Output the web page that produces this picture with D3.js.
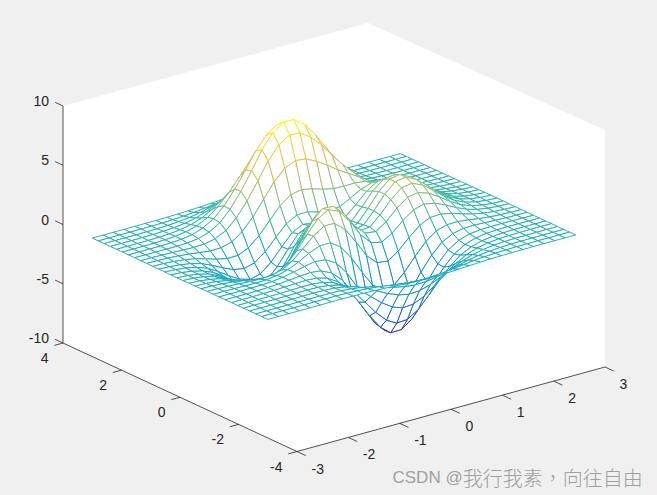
<!DOCTYPE html>
<html>
<head>
<meta charset="utf-8">
<style>
  html, body { margin: 0; padding: 0; background: #f0f0f0; overflow: hidden; }
  text { font-family: "Liberation Sans", Arial, sans-serif; }
</style>
<script src="https://cdnjs.cloudflare.com/ajax/libs/d3/7.8.5/d3.min.js"></script>
</head>
<body>
<div id="chart"></div>
<script>
const xTicks = [-3, -2, -1, 0, 1, 2, 3];
const yTicks = [-4, -2, 0, 2, 4];
const zTicks = [-10, -5, 0, 5, 10];

// mesh node positions, same for both directions
const gridVals = [-3, -2.79, -2.59, -2.38, -2.17, -1.97, -1.76, -1.55, -1.34, -1.14, -0.93, -0.72, -0.52, -0.31, -0.1,
  0.1, 0.31, 0.52, 0.72, 0.93, 1.14, 1.34, 1.55, 1.76, 1.97, 2.17, 2.38, 2.59, 2.79, 3];

// heights, one row per y node
const zRows = [
  [0,0,0,0,0,0,.01,.01,0,-.01,-.04,-.08,-.13,-.19,-.23,-.25,-.25,-.22,-.18,-.13,-.08,-.05,-.03,-.01,-.01,0,0,0,0,0],
  [0,0,0,0,0,.01,.01,.01,-.01,-.04,-.11,-.20,-.32,-.45,-.55,-.60,-.58,-.51,-.41,-.29,-.19,-.11,-.06,-.03,-.01,0,0,0,0,0],
  [0,0,0,0,.01,.01,.01,.01,-.02,-.10,-.23,-.43,-.68,-.94,-1.14,-1.24,-1.21,-1.07,-.85,-.61,-.39,-.23,-.12,-.06,-.02,-.01,0,0,0,0],
  [0,0,0,.01,.01,.02,.03,.01,-.04,-.18,-.42,-.79,-1.24,-1.71,-2.08,-2.27,-2.21,-1.95,-1.54,-1.10,-.71,-.41,-.22,-.10,-.04,-.02,-.01,0,0,0],
  [0,0,.01,.01,.02,.04,.05,.03,-.06,-.26,-.64,-1.23,-1.96,-2.72,-3.34,-3.65,-3.58,-3.16,-2.50,-1.78,-1.14,-.66,-.34,-.16,-.06,-.02,-.01,0,0,0],
  [0,0,.01,.02,.03,.05,.08,.07,-.03,-.29,-.81,-1.61,-2.66,-3.77,-4.68,-5.17,-5.10,-4.51,-3.57,-2.54,-1.61,-.91,-.46,-.20,-.08,-.02,0,0,0,0],
  [0,0,.01,.02,.04,.08,.12,.15,.09,-.15,-.70,-1.63,-2.90,-4.30,-5.52,-6.22,-6.21,-5.53,-4.38,-3.09,-1.93,-1.06,-.50,-.20,-.06,-.01,.01,.01,0,0],
  [0,0,0,.01,.04,.09,.17,.27,.32,.22,-.20,-1.05,-2.34,-3.89,-5.33,-6.26,-6.41,-5.77,-4.56,-3.16,-1.90,-.96,-.39,-.10,.01,.03,.03,.02,.01,0],
  [0,0,-.01,0,.02,.07,.18,.37,.59,.76,.67,.15,-.90,-2.38,-3.91,-5.05,-5.44,-5.00,-3.92,-2.59,-1.40,-.55,-.07,.12,.15,.11,.07,.03,.02,.01],
  [-.01,-.01,-.02,-.04,-.05,-.02,.09,.34,.74,1.23,1.61,1.62,1.04,-.15,-1.62,-2.91,-3.57,-3.42,-2.59,-1.48,-.48,.17,.45,.47,.36,.23,.13,.06,.03,.01],
  [-.01,-.03,-.06,-.10,-.16,-.20,-.15,.08,.59,1.36,2.21,2.80,2.79,2.01,.70,-.65,-1.52,-1.62,-1.03,-.14,.64,1.07,1.11,.92,.63,.38,.20,.09,.04,.01],
  [-.02,-.04,-.10,-.19,-.33,-.48,-.57,-.45,.04,.95,2.12,3.19,3.69,3.31,2.21,.88,-.07,-.27,.24,1.05,1.71,1.96,1.79,1.39,.92,.54,.28,.13,.06,.02],
  [-.02,-.06,-.14,-.29,-.52,-.82,-1.11,-1.19,-.85,.04,1.35,2.71,3.57,3.51,2.62,1.39,.51,.39,.99,1.88,2.55,2.71,2.40,1.82,1.20,.70,.36,.17,.07,.03],
  [-.03,-.08,-.19,-.38,-.70,-1.15,-1.63,-1.94,-1.81,-1.07,.24,1.72,2.78,2.95,2.26,1.19,.46,.53,1.31,2.35,3.10,3.25,2.85,2.14,1.41,.82,.42,.20,.08,.03],
  [-.04,-.09,-.21,-.44,-.83,-1.37,-2.01,-2.51,-2.59,-2.02,-.81,.68,1.84,2.17,1.66,.78,.23,.47,1.42,2.57,3.38,3.53,3.08,2.32,1.52,.88,.46,.21,.09,.03],
  [-.04,-.09,-.22,-.46,-.87,-1.46,-2.17,-2.77,-3.00,-2.59,-1.52,-.12,1.04,1.47,1.11,.42,.04,.39,1.40,2.57,3.38,3.52,3.07,2.31,1.51,.87,.45,.21,.09,.03],
  [-.03,-.09,-.21,-.44,-.82,-1.39,-2.08,-2.71,-3.00,-2.71,-1.81,-.58,.49,.94,.72,.19,-.06,.33,1.28,2.37,3.11,3.23,2.81,2.11,1.38,.80,.41,.19,.08,.03],
  [-.03,-.08,-.18,-.37,-.70,-1.20,-1.80,-2.35,-2.63,-2.41,-1.66,-.61,.34,.79,.67,.29,.11,.45,1.23,2.11,2.69,2.76,2.39,1.79,1.17,.68,.35,.16,.07,.02],
  [-.02,-.06,-.14,-.29,-.54,-.92,-1.37,-1.78,-1.94,-1.70,-1.00,-.04,.86,1.36,1.38,1.12,.93,1.07,1.52,2.04,2.34,2.29,1.93,1.43,.92,.53,.27,.13,.05,.02],
  [-.02,-.04,-.10,-.20,-.37,-.61,-.89,-1.09,-1.07,-.68,.11,1.15,2.16,2.82,3.01,2.84,2.55,2.36,2.32,2.33,2.24,1.97,1.56,1.11,.70,.39,.20,.09,.04,.01],
  [-.01,-.03,-.06,-.12,-.21,-.33,-.44,-.42,-.17,.45,1.44,2.69,3.92,4.82,5.22,5.12,4.67,4.08,3.47,2.91,2.37,1.83,1.32,.87,.53,.29,.14,.06,.03,.01],
  [-.01,-.01,-.03,-.06,-.09,-.12,-.08,.11,.56,1.38,2.56,4.01,5.45,6.57,7.14,7.08,6.49,5.56,4.49,3.45,2.53,1.76,1.15,.71,.40,.21,.10,.04,.02,.01],
  [0,-.01,-.01,-.02,-.01,.02,.14,.43,.98,1.88,3.14,4.64,6.15,7.35,8.00,7.97,7.31,6.21,4.91,3.63,2.52,1.64,1.00,.57,.31,.15,.07,.03,.01,0],
  [0,0,0,0,.03,.09,.23,.54,1.08,1.92,3.08,4.44,5.82,6.93,7.55,7.53,6.91,5.86,4.58,3.32,2.25,1.41,.83,.45,.23,.11,.05,.02,.01,0],
  [0,0,0,.01,.04,.10,.23,.48,.93,1.61,2.53,3.62,4.72,5.60,6.10,6.10,5.60,4.73,3.68,2.65,1.76,1.08,.62,.33,.16,.07,.03,.01,0,0],
  [0,0,0,.01,.03,.08,.17,.36,.67,1.15,1.78,2.53,3.29,3.91,4.25,4.25,3.90,3.30,2.56,1.83,1.21,.74,.41,.22,.10,.05,.02,.01,0,0],
  [0,0,0,.01,.02,.05,.11,.23,.42,.71,1.10,1.56,2.03,2.41,2.62,2.62,2.41,2.03,1.57,1.12,.74,.45,.25,.13,.06,.03,.01,0,0,0],
  [0,0,0,0,.01,.03,.06,.13,.23,.39,.61,.86,1.11,1.32,1.43,1.43,1.32,1.11,.86,.61,.40,.24,.13,.07,.03,.01,.01,0,0,0],
  [0,0,0,0,.01,.01,.03,.06,.11,.19,.29,.41,.54,.64,.69,.69,.64,.54,.42,.30,.19,.12,.06,.03,.02,.01,0,0,0,0],
  [0,0,0,0,0,.01,.01,.03,.05,.08,.13,.18,.23,.27,.30,.30,.27,.23,.18,.13,.08,.05,.03,.01,.01,0,0,0,0,0]
];

const parula = ['#352a87', '#0f5cdd', '#1481d6', '#06a4ca', '#2eb7a4', '#87bf77', '#d1bb59', '#fec832', '#f9fb0e'];

const w = 657;
const h = 495;
const ink = '#262626';

const svg = d3.select('#chart').append('svg')
  .attr('width', w)
  .attr('height', h)
  .attr('viewBox', '0 0 ' + w + ' ' + h)
  .style('display', 'block');

// axis units -> 0..1 along each box edge
const xs = d3.scaleLinear().domain([-3, 3]).range([0, 1]);
const ys = d3.scaleLinear().domain([-4, 4]).range([0, 1]);
const zs = d3.scaleLinear().domain([-10, 10]).range([0, 1]);

// the box edges on screen, from the near bottom corner
const origin = [297, 451.5];
const xEdge = [308, -84.5];
const yEdge = [-234, -108.5];
const zEdge = [0, -237];

function project(x, y, z) {
  const a = xs(x), b = ys(y), c = zs(z);
  return [
    origin[0] + a * xEdge[0] + b * yEdge[0] + c * zEdge[0],
    origin[1] + a * xEdge[1] + b * yEdge[1] + c * zEdge[1]
  ];
}

const color = d3.scaleLinear()
  .domain(d3.range(parula.length).map(i => -6.41 + i * (8 + 6.41) / (parula.length - 1)))
  .range(parula)
  .interpolate(d3.interpolateRgb);

const line = d3.line();

// back walls, far corner sits a touch inside the plain projection
const farTop = project(3, 4, 10);
svg.append('path')
  .attr('d', line([
    project(-3, 4, -10), project(-3, 4, 10), [farTop[0] - 3, farTop[1] + 1.5],
    project(3, -4, 10), project(3, -4, -10), project(-3, -4, -10)
  ]) + 'Z')
  .attr('fill', '#fff');

// axis lines
svg.append('path')
  .attr('d', line([project(-3, 4, 10), project(-3, 4, -10), project(-3, -4, -10), project(3, -4, -10)]))
  .attr('fill', 'none')
  .attr('stroke', ink)
  .attr('stroke-width', 0.8);

// ticks + labels
function axisGroup(ticks, pos, tickEnd, dx, dy, anchor) {
  const g = svg.append('g');
  ticks.forEach(t => {
    const p = pos(t), q = tickEnd(t);
    g.append('line')
      .attr('x1', p[0]).attr('y1', p[1])
      .attr('x2', q[0]).attr('y2', q[1])
      .attr('stroke', ink)
      .attr('stroke-width', 0.8);
    g.append('text')
      .attr('x', p[0] + dx)
      .attr('y', p[1] + dy)
      .attr('text-anchor', anchor)
      .attr('dominant-baseline', 'central')
      .attr('font-size', 14)
      .attr('fill', ink)
      .text(t);
  });
}

axisGroup(xTicks, t => project(t, -4, -10), t => project(t, -4.3, -10), 14.5, 17, 'start');
axisGroup(yTicks, t => project(-3, t, -10), t => project(-3.17, t, -10), -14.5, 15, 'end');
axisGroup(zTicks, t => project(-3, 4, t), t => project(-3, 4.27, t), -14, -5, 'end');

// mesh cells, far corner first so nearer ones hide them
const cells = [];
for (let j = gridVals.length - 2; j >= 0; j--) {
  for (let i = gridVals.length - 2; i >= 0; i--) {
    cells.push({i: i, j: j});
  }
}

function node(i, j) {
  return project(gridVals[i], gridVals[j], zRows[j][i]);
}

const mesh = svg.append('g');
cells.forEach(c => {
  const i = c.i, j = c.j;
  const corners = [[i, j], [i + 1, j], [i + 1, j + 1], [i, j + 1]];
  mesh.append('path')
    .attr('d', line(corners.map(n => node(n[0], n[1]))) + 'Z')
    .attr('fill', '#fff');
  corners.forEach((n, k) => {
    const m = corners[(k + 1) % 4];
    const zMid = (zRows[n[1]][n[0]] + zRows[m[1]][m[0]]) / 2;
    mesh.append('path')
      .attr('d', line([node(n[0], n[1]), node(m[0], m[1])]))
      .attr('fill', 'none')
      .attr('stroke', color(zMid))
      .attr('stroke-width', 0.95);
  });
});

// watermark from the screenshot
const mark = svg.append('text')
  .attr('x', 392.5)
  .attr('y', 477)
  .attr('dominant-baseline', 'central')
  .attr('fill', '#9f9f9f');
mark.append('tspan')
  .attr('font-size', 17)
  .text('CSDN @');
mark.append('tspan')
  .attr('font-size', 20)
  .style('font-family', '"Noto Sans CJK TC", "Noto Sans CJK SC", sans-serif')
  .style('font-weight', 300)
  .text('我行我素，向往自由');
</script>
</body>
</html>
